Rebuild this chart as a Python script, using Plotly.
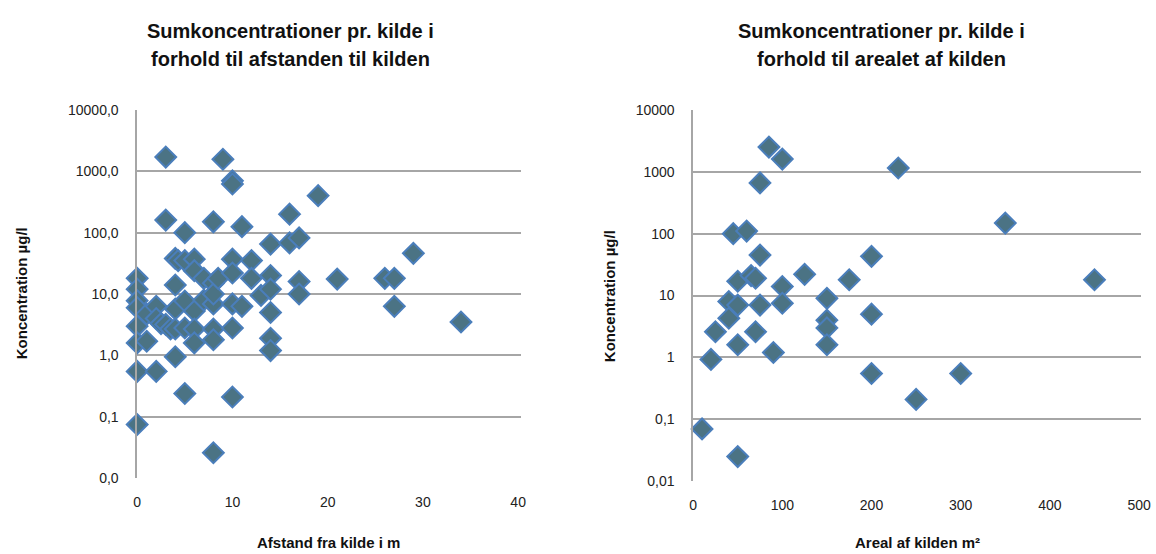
import plotly.graph_objects as go

# Left panel: distance from the source (m) vs. summed concentration (µg/l)
afstand = [0, 0, 0, 0, 0, 0, 0, 0,
           1, 1, 2, 2, 2, 2.5,
           3, 3, 3, 3.5,
           4, 4, 4, 4, 4, 4.3,
           5, 5, 5, 5, 5,
           6, 6, 6, 6, 6,
           7, 7,
           8, 8, 8, 8, 8, 8, 8, 8.5,
           9,
           10, 10, 10, 10, 10, 10, 10,
           11, 11, 12, 12, 13,
           14, 14, 14, 14, 14, 14,
           16, 16, 17, 17, 17,
           19, 21, 26, 27, 27, 29, 34]
konc_afstand = [18, 12, 7.8, 6, 3, 1.6, 0.55, 0.075,
                1.7, 4.7, 0.55, 6.3, 4, 3.3,
                3.2, 160, 1700, 2.7,
                38, 14, 5.7, 2.7, 0.95, 35,
                100, 7.7, 0.24, 2.8, 35,
                37, 24, 5.3, 2.7, 1.6,
                18, 8,
                150, 15, 6.9, 2.7, 1.8, 0.026, 10, 18,
                1570,
                700, 620, 37, 22, 6.9, 2.8, 0.21,
                125, 6.3, 35, 18, 9.5,
                65, 20, 12, 5, 1.9, 1.2,
                68, 200, 82, 16, 10,
                400, 17.5, 18, 18, 6.3, 46, 3.5]

# Right panel: area of the source (m²) vs. summed concentration (µg/l)
areal = [85, 100, 75, 45, 60, 75, 50, 65, 70, 100, 125, 175, 200, 150,
         40, 50, 75, 100, 40, 25, 70, 50, 90, 20, 150, 150, 150, 200, 200,
         10, 50, 230, 350, 450, 250, 300]
konc_areal = [2500, 1600, 660, 100, 110, 45, 17, 21, 19, 14, 22, 18, 43, 9,
              8, 7, 7, 7.5, 4.3, 2.6, 2.6, 1.6, 1.2, 0.93, 4, 3, 1.6, 5, 0.55,
              0.07, 0.025, 1150, 148, 18, 0.21, 0.55]

y_ticks = [0.01, 0.1, 1, 10, 100, 1000, 10000]
y_text_left = ["0,0", "0,1", "1,0", "10,0", "100,0", "1000,0", "10000,0"]
y_text_right = ["0,01", "0,1", "1", "10", "100", "1000", "10000"]
x_ticks_left = [0, 10, 20, 30, 40]
x_ticks_right = [0, 100, 200, 300, 400, 500]

W, H = 1156, 554
FILL = "#4B7384"
EDGE = "#4A7EBB"
GRID = "#A6A6A6"
FONT = "Liberation Sans, Arial, sans-serif"

marker = dict(symbol="diamond", size=16, color=FILL,
              line=dict(color=EDGE, width=2))

fig = go.Figure()
fig.add_trace(go.Scatter(x=afstand, y=konc_afstand, mode="markers",
                         marker=marker, xaxis="x", yaxis="y",
                         cliponaxis=False, showlegend=False))
fig.add_trace(go.Scatter(x=areal, y=konc_areal, mode="markers",
                         marker=marker, xaxis="x2", yaxis="y2",
                         cliponaxis=False, showlegend=False))


# pixel position -> paper fraction
def px_x(p):
    return ((p - 2.8) / 0.988) / W


def px_y(p):
    return 1 - ((p - 7.3) / 0.970) / H


tick_font = dict(family=FONT, size=14, color="#222222")

common_x = dict(showgrid=False, zeroline=False, showline=False,
                ticks="", tickfont=tick_font, ticklabelstandoff=14)
common_y = dict(type="log", showgrid=True, gridcolor=GRID, gridwidth=1.5,
                zeroline=False, showline=True, linecolor=GRID, linewidth=1.5,
                ticks="", tickfont=tick_font, ticklabelstandoff=14)

fig.update_layout(
    width=W, height=H,
    margin=dict(l=0, r=0, t=0, b=0),
    paper_bgcolor="white", plot_bgcolor="white",
    font=dict(family=FONT, color="#222222"),
    xaxis=dict(domain=[px_x(136), px_x(520)], range=[0, 40 * 384 / 381],
               tickvals=x_ticks_left, anchor="y", **common_x),
    yaxis=dict(domain=[px_y(477), px_y(109)], range=[-2, 4],
               tickvals=y_ticks, ticktext=y_text_left, anchor="x", **common_y),
    xaxis2=dict(domain=[px_x(692), px_x(1140)], range=[0, 500 * 448 / 446],
                tickvals=x_ticks_right, anchor="y2", **common_x),
    yaxis2=dict(domain=[px_y(480), px_y(109)], range=[-2, 4],
                tickvals=y_ticks, ticktext=y_text_right, anchor="x2", **common_y),
)

title_font = dict(family=FONT, size=20, color="#111111")
label_font = dict(family=FONT, size=15, color="#111111")


def text(x, y, s, font, angle=0):
    fig.add_annotation(x=px_x(x), y=px_y(y), xref="paper", yref="paper",
                       text=s, showarrow=False, font=font, textangle=angle,
                       xanchor="center", yanchor="middle")


# Panel titles
text(289, 30, "<b>Sumkoncentrationer pr. kilde i</b>", title_font)
text(289, 58, "<b>forhold til afstanden til kilden</b>", title_font)
text(880, 30, "<b>Sumkoncentrationer pr. kilde i</b>", title_font)
text(880, 58, "<b>forhold til arealet af kilden</b>", title_font)

# Axis titles
text(327, 541, "<b>Afstand fra kilde i m</b>", label_font)
text(916, 541, "<b>Areal af kilden m²</b>", label_font)
text(20, 292, "<b>Koncentration µg/l</b>", label_font, angle=-90)
text(608, 295, "<b>Koncentration µg/l</b>", label_font, angle=-90)

fig.write_html("out.html")
